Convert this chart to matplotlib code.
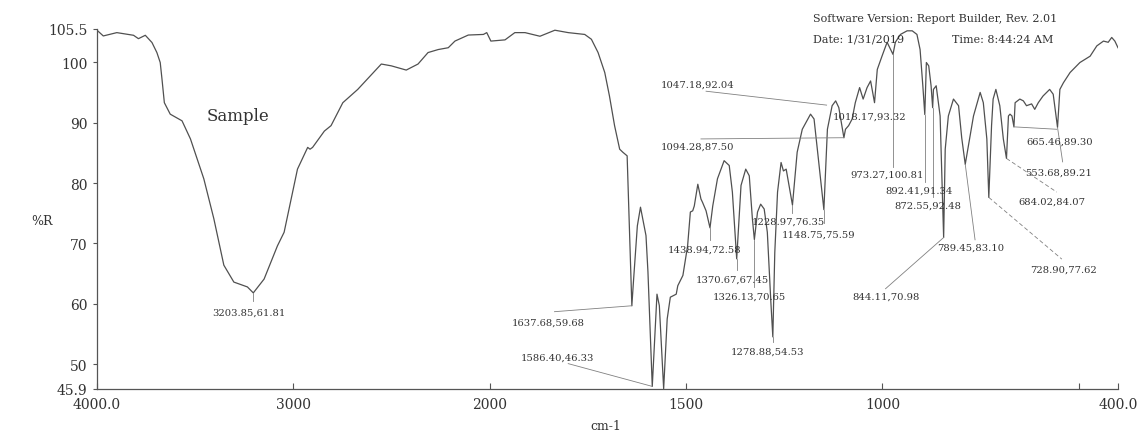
import matplotlib.pyplot as plt
import numpy as np

# wavenumber (cm-1) and %R
wavenumber = [4000, 3968, 3899, 3814, 3789, 3754, 3720, 3695, 3678, 3669, 3657, 3627, 3567, 3524,
              3456, 3405, 3354, 3303, 3234, 3204, 3149, 3081, 3047, 3013, 2979, 2927, 2915, 2902,
              2842, 2808, 2748, 2672, 2552, 2501, 2425, 2365, 2314, 2262, 2211, 2177, 2109, 2032,
              2015, 1997, 1961, 1936, 1910, 1872, 1834, 1800, 1758, 1741, 1724, 1707, 1695, 1682,
              1669, 1661, 1650, 1645, 1638, 1634, 1624, 1616, 1602, 1597, 1586, 1574, 1568, 1557,
              1548, 1540, 1525, 1521, 1508, 1504, 1496, 1489, 1483, 1479, 1470, 1462, 1458, 1449,
              1439, 1432, 1420, 1403, 1390, 1382, 1371, 1360, 1348, 1339, 1331, 1326, 1318, 1310,
              1301, 1293, 1284, 1279, 1274, 1267, 1258, 1252, 1245, 1229, 1217, 1204, 1183, 1174,
              1162, 1149, 1140, 1128, 1119, 1111, 1098, 1094, 1086, 1077, 1069, 1058, 1049, 1039,
              1030, 1020, 1013, 1001, 988, 973, 967, 954, 937, 924, 912, 904, 897, 892, 888, 882,
              876, 872, 870, 863, 853, 844, 840, 832, 819, 806, 798, 789, 768, 751, 743, 734, 729,
              722, 718, 711, 701, 692, 684, 679, 675, 670, 665, 662, 650, 641, 633, 620, 612, 603,
              591, 574, 565, 554, 548, 539, 522, 497, 471, 454, 437, 425, 416, 408, 400]
percentR = [105.3, 104.35, 104.9, 104.46, 103.9, 104.46, 103.26, 101.6, 99.95, 97.2, 93.3, 91.4,
            90.3, 87.3, 80.7, 74.1, 66.4, 63.6, 62.8, 61.81, 64.1, 69.6, 71.85, 77.1, 82.3, 85.9,
            85.6, 85.9, 88.6, 89.5, 93.3, 95.5, 99.7, 99.4, 98.7, 99.7, 101.6, 102.1, 102.4, 103.5,
            104.5, 104.6, 104.9, 103.5, 103.7, 104.9, 104.9, 104.3, 105.3, 104.9, 104.6, 103.8,
            101.6, 98.3, 94.4, 89.5, 85.6, 85.1, 84.5, 74.0, 59.68, 63.6, 72.9, 76.0, 71.3, 65.3,
            46.33, 61.6, 59.7, 45.95, 57.5, 61.1, 61.6, 63.0, 64.7, 66.3, 69.6, 75.2, 75.4, 76.2,
            79.8, 77.35, 76.8, 75.4, 72.58, 76.2, 80.7, 83.7, 82.9, 78.5, 67.45, 79.6, 82.3, 81.2,
            74.05, 70.65, 75.2, 76.5, 75.7, 71.85, 60.3, 54.53, 68.5, 78.5, 83.4, 82.0, 82.3, 76.35,
            85.1, 88.9, 91.4, 90.6, 83.4, 75.59, 88.9, 92.8, 93.6, 92.5, 87.5, 88.9, 89.5, 90.6,
            93.3, 95.8, 93.9, 95.8, 96.9, 93.3, 98.8, 101.0, 103.3, 101.3, 103.3, 104.6, 105.2,
            105.2, 104.6, 102.1, 96.1, 91.34, 99.95, 99.4, 96.1, 92.48, 95.5, 96.1, 91.1, 70.98,
            85.6, 91.1, 93.9, 92.8, 87.5, 83.1, 91.1, 95.0, 93.3, 87.3, 77.62, 89.5, 93.9, 95.5,
            92.8, 87.3, 84.07, 91.1, 91.4, 91.1, 89.3, 93.3, 93.9, 93.6, 92.8, 93.1, 92.2, 93.3,
            94.4, 95.5, 94.7, 89.21, 95.5, 96.6, 98.3, 99.95, 101.0, 102.7, 103.5, 103.3, 104.1,
            103.5, 102.4]

# peak labels: text, peak position, where the label sits
peaks = [
    ("3203.85,61.81", (3204, 61.81), (3228, 58.7)),
    ("1637.68,59.68", (1638, 59.68), (1850, 57.0)),
    ("1586.40,46.33", (1586, 46.33), (1827, 51.1)),
    ("1047.18,92.04", (1142, 92.9), (1470, 96.4)),
    ("1094.28,87.50", (1098, 87.5), (1472, 86.1)),
    ("1018.17,93.32", (1020, 93.3), (1033, 91.1)),
    ("1438.94,72.58", (1439, 72.58), (1454, 69.1)),
    ("1370.67,67.45", (1371, 67.45), (1383, 64.0)),
    ("1326.13,70.65", (1326, 70.65), (1338, 61.3)),
    ("1278.88,54.53", (1279, 54.53), (1292, 52.1)),
    ("1228.97,76.35", (1229, 76.35), (1239, 73.7)),
    ("1148.75,75.59", (1149, 75.59), (1162, 71.6)),
    ("973.27,100.81", (973, 101.3), (987, 81.5)),
    ("892.41,91.34", (892, 91.34), (906, 78.8)),
    ("872.55,92.48", (872, 92.48), (883, 76.4)),
    ("844.11,70.98", (844, 70.98), (990, 61.2)),
    ("789.45,83.10", (789, 83.1), (774, 69.4)),
    ("728.90,77.62", (729, 77.62), (538, 65.8)),
    ("684.02,84.07", (684, 84.07), (569, 77.0)),
    ("665.46,89.30", (665, 89.3), (549, 86.9)),
    ("553.68,89.21", (554, 89.21), (551, 81.8)),
]

# leader line end points next to the labels
leader_ends = [(3204, 60.4), (1835, 58.7), (1800, 50.1), (1449, 95.2), (1462, 87.3), None,
               (1439, 70.6), (1371, 65.6), (1326, 62.8), (1279, 53.6), (1229, 75.0),
               (1149, 73.3), (973, 82.7), (892, 80.1), (872, 77.7), (992, 62.5), (764, 70.6),
               (543, 67.4), (556, 78.5), (556, 88.9), (541, 83.5)]


# the instrument plots 2000-400 cm-1 at twice the scale of 4000-2000
def fwd(w):
    w = np.asarray(w, dtype=float)
    return np.where(w >= 2000, w, 2 * w - 2000)


def inv(v):
    v = np.asarray(v, dtype=float)
    return np.where(v >= 2000, v, (v + 2000) / 2)


plt.rcParams['font.family'] = 'DejaVu Serif'
ink = '#333333'

fig = plt.figure(figsize=(11.41, 4.35), dpi=100)
ax = fig.add_axes([97 / 1141, 1 - 390 / 435, 1021 / 1141, 360 / 435])
ax.set_xscale('function', functions=(fwd, inv))

ax.plot(wavenumber, percentR, color='#505050', lw=0.9)

ax.set_xlim(4000, 400)
ax.set_ylim(45.9, 105.5)

ax.set_xticks([4000, 3000, 2000, 1500, 1000, 500, 400])
ax.set_xticklabels(['4000.0', '3000', '2000', '1500', '1000', '', '400.0'])
ax.set_yticks([45.9, 50, 60, 70, 80, 90, 100, 105.5])
ax.set_yticklabels(['45.9', '50', '60', '70', '80', '90', '100', '105.5'])
ax.xaxis.set_minor_locator(plt.NullLocator())
ax.tick_params(axis='x', direction='in', length=4, width=0.8, colors='#555555',
               labelcolor=ink, labelsize=10, pad=6)
ax.tick_params(axis='y', direction='out', length=3, width=0.8, colors='#555555',
               labelcolor=ink, labelsize=10, pad=4)

for s in ['top', 'right']:
    ax.spines[s].set_visible(False)
for s in ['left', 'bottom']:
    ax.spines[s].set_color('#555555')
    ax.spines[s].set_linewidth(0.9)

for (txt, pk, pos), end in zip(peaks, leader_ends):
    ax.text(pos[0], pos[1], txt, ha='center', va='center', fontsize=7.2, color=ink)
    if end is not None:
        dashed = txt.startswith('728') or txt.startswith('684')
        ax.plot([pk[0], end[0]], [pk[1], end[1]], color='#808080', lw=0.6,
                ls=(0, (5, 3)) if dashed else '-')

ax.text(3284, 91.1, 'Sample', ha='center', va='center', fontsize=12, color=ink)

fig.text(42 / 1141, 1 - 222 / 435, '%R', ha='center', va='center', fontsize=9, color=ink)
fig.text(606 / 1141, 1 - 427 / 435, 'cm-1', ha='center', va='center', fontsize=9, color=ink)
fig.text(813 / 1141, 1 - 19 / 435, 'Software Version: Report Builder, Rev. 2.01',
         ha='left', va='center', fontsize=8, color=ink)
fig.text(813 / 1141, 1 - 40 / 435, 'Date: 1/31/2019', ha='left', va='center',
         fontsize=8, color=ink)
fig.text(952 / 1141, 1 - 40 / 435, 'Time: 8:44:24 AM', ha='left', va='center',
         fontsize=8, color=ink)

fig.savefig('out.png', dpi=100, facecolor='white')
